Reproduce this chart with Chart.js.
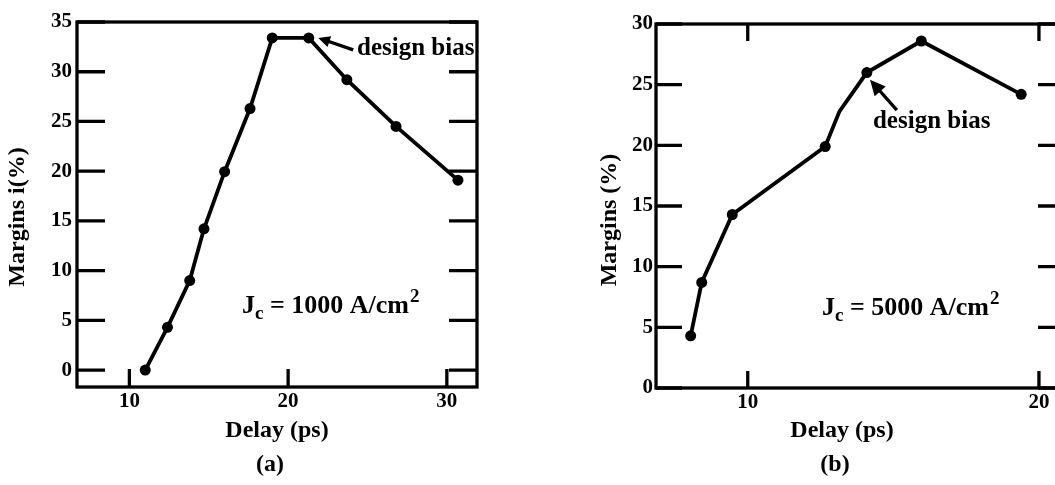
<!DOCTYPE html>
<html>
<head>
<meta charset="utf-8">
<script src="https://cdn.jsdelivr.net/npm/chart.js@4"></script>
<style>
  body { margin: 0; width: 1055px; height: 485px; overflow: hidden; background: #fff; position: relative; }
  canvas { position: absolute; top: 0; }
  #chartA { left: 0; }
  #chartB { left: 560px; }
</style>
</head>
<body>
<canvas id="chartA" width="520" height="485"></canvas>
<canvas id="chartB" width="520" height="485"></canvas>
<script>
// (a) Jc = 1000 A/cm2
const delayA  = [11.0, 12.4, 13.8, 14.7, 16.0, 17.6, 19.0, 21.3, 23.7, 26.8, 30.7];
const marginA = [0, 4.3, 9.0, 14.2, 19.95, 26.3, 33.4, 33.4, 29.2, 24.5, 19.1];
const xTicksA = [10, 20, 30];
const yTicksA = [0, 5, 10, 15, 20, 25, 30, 35];

// (b) Jc = 5000 A/cm2 (the 5th point is a bend in the line with no dot)
const delayB  = [8.04, 8.42, 9.47, 12.66, 13.15, 14.09, 15.96, 19.39];
const marginB = [4.3, 8.7, 14.3, 19.9, 22.8, 26.0, 28.6, 24.2];
const dotB    = [5.5, 5.5, 5.5, 5.5, 0, 5.5, 5.5, 5.5];
const xTicksB = [10, 20];
const yTicksB = [0, 5, 10, 15, 20, 25, 30];

const serif = '"Liberation Serif", "Times New Roman", serif';

function arrow(ctx, x1, y1, x2, y2, head) {
  const a = Math.atan2(y2 - y1, x2 - x1);
  ctx.beginPath();
  ctx.moveTo(x1, y1);
  ctx.lineTo(x2 - Math.cos(a) * head * 0.8, y2 - Math.sin(a) * head * 0.8);
  ctx.stroke();
  ctx.beginPath();
  ctx.moveTo(x2, y2);
  ctx.lineTo(x2 - head * Math.cos(a - 0.45), y2 - head * Math.sin(a - 0.45));
  ctx.lineTo(x2 - head * Math.cos(a + 0.45), y2 - head * Math.sin(a + 0.45));
  ctx.closePath();
  ctx.fill();
}

const paper = {
  id: 'paper',
  beforeDatasetsDraw(chart, args, o) {
    const ctx = chart.ctx, a = chart.chartArea;
    const xs = chart.scales.x, ys = chart.scales.y;
    ctx.save();
    ctx.strokeStyle = '#000';
    ctx.lineWidth = 3.3;
    ctx.strokeRect(a.left, a.top, a.right - a.left, a.bottom - a.top);
    ctx.lineWidth = 3.3;
    ys.ticks.forEach(t => {
      const p = ys.getPixelForValue(t.value);
      ctx.beginPath();
      ctx.moveTo(a.left, p); ctx.lineTo(a.left + o.yTick, p);
      ctx.moveTo(a.right, p); ctx.lineTo(a.right - o.yTick, p);
      ctx.stroke();
    });
    xs.ticks.forEach(t => {
      const p = xs.getPixelForValue(t.value);
      ctx.beginPath();
      ctx.moveTo(p, a.bottom); ctx.lineTo(p, a.bottom - o.xTick);
      if (o.topTicks) { ctx.moveTo(p, a.top); ctx.lineTo(p, a.top + o.xTick); }
      ctx.stroke();
    });
    ctx.restore();
  },
  afterDraw(chart, args, o) {
    const ctx = chart.ctx;
    const xs = chart.scales.x, ys = chart.scales.y;
    ctx.save();
    ctx.fillStyle = '#000';
    ctx.strokeStyle = '#000';
    ctx.textBaseline = 'middle';
    ctx.textAlign = 'center';
    ctx.font = 'bold 24px ' + serif;
    // captions
    ctx.fillText('Delay (ps)', o.delayX, 431);
    ctx.fillText(o.tag, o.tagX, 465);
    ctx.save();
    ctx.translate(o.yTitleX, o.yTitleY);
    ctx.rotate(-Math.PI / 2);
    ctx.fillText(o.yTitle, 0, 0);
    ctx.restore();
    // design bias note
    ctx.lineWidth = 3.3;
    arrow(ctx, xs.getPixelForValue(o.arrow[0]), ys.getPixelForValue(o.arrow[1]),
          xs.getPixelForValue(o.arrow[2]), ys.getPixelForValue(o.arrow[3]), o.head);
    ctx.textAlign = 'left';
    ctx.textBaseline = 'alphabetic';
    ctx.font = 'bold 25px ' + serif;
    ctx.fillText('design bias', xs.getPixelForValue(o.note[0]), ys.getPixelForValue(o.note[1]));
    // Jc label
    let x = xs.getPixelForValue(o.jc[0]);
    const y = ys.getPixelForValue(o.jc[1]);
    const big = 'bold 26px ' + serif, small = 'bold 19px ' + serif;
    ctx.font = big;
    ctx.fillText('J', x, y); x += ctx.measureText('J').width;
    ctx.font = small;
    ctx.fillText('c', x, y + 6); x += ctx.measureText('c').width;
    ctx.font = big;
    const mid = ' = ' + o.jcVal + ' A/cm';
    ctx.fillText(mid, x, y); x += ctx.measureText(mid).width;
    ctx.font = small;
    ctx.fillText('2', x + 1, y - 11);
    ctx.restore();
  }
};

function makeChart(id, xv, yv, dots, s) {
  const pts = xv.map((v, i) => ({ x: v, y: yv[i] }));
  const tickFont = { family: serif, size: 21, weight: 'bold' };
  return new Chart(document.getElementById(id), {
    type: 'line',
    data: {
      datasets: [{
        data: pts,
        borderColor: '#000',
        backgroundColor: '#000',
        borderWidth: 3.8,
        pointRadius: dots,
        pointBorderWidth: 0,
        tension: 0
      }]
    },
    options: {
      responsive: false,
      animation: false,
      events: [],
      layout: { padding: { top: s.top, right: s.right, bottom: 0, left: 0 } },
      plugins: { legend: { display: false }, tooltip: { enabled: false }, paper: s.paper },
      scales: {
        x: {
          type: 'linear', min: s.xmin, max: s.xmax,
          grid: { display: false, drawTicks: false },
          border: { display: false },
          afterBuildTicks: sc => { sc.ticks = s.xTicks.map(v => ({ value: v })); },
          afterFit: sc => { sc.height = s.xh; },
          ticks: { color: '#000', font: tickFont, padding: 2, maxRotation: 0 }
        },
        y: {
          type: 'linear', min: s.ymin, max: s.ymax,
          grid: { display: false, drawTicks: false },
          border: { display: false },
          afterBuildTicks: sc => { sc.ticks = s.yTicks.map(v => ({ value: v })); },
          afterFit: sc => { sc.width = s.yw; },
          ticks: { color: '#000', font: tickFont, padding: s.ypad }
        }
      }
    },
    plugins: [paper]
  });
}

makeChart('chartA', delayA, marginA, 5.5, {
  xmin: 6.7, xmax: 31.9, ymin: -1.7, ymax: 35,
  xTicks: xTicksA, yTicks: yTicksA,
  top: 22, right: 43, xh: 98, yw: 77, ypad: 5,
  paper: {
    yTick: 28, xTick: 18, topTicks: false,
    delayX: 277, tag: '(a)', tagX: 270,
    yTitle: 'Margins i(%)', yTitleX: 18, yTitleY: 217,
    arrow: [24.1, 32.2, 21.9, 33.4], head: 13,
    note: [24.34, 31.7],
    jc: [17.1, 5.7], jcVal: '1000'
  }
});

makeChart('chartB', delayB, marginB, dotB, {
  xmin: 6.85, xmax: 20.86, ymin: 0, ymax: 30,
  xTicks: xTicksB, yTicks: yTicksB,
  top: 24, right: 16, xh: 97, yw: 96, ypad: 3,
  paper: {
    yTick: 26, xTick: 17, topTicks: true,
    delayX: 282, tag: '(b)', tagX: 275,
    yTitle: 'Margins (%)', yTitleX: 50, yTitleY: 220,
    arrow: [15.12, 22.9, 14.2, 25.4], head: 17,
    note: [14.3, 21.4],
    jc: [12.55, 6.0], jcVal: '5000'
  }
});
</script>
</body>
</html>
